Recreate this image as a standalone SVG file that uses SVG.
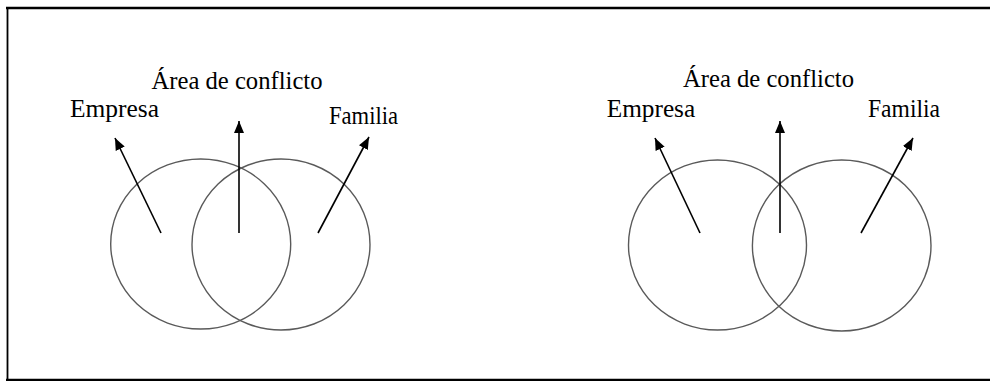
<svg xmlns="http://www.w3.org/2000/svg" width="990" height="381" viewBox="0 0 990 381">
<style>
.frame{stroke:#000;fill:none}
.ring{fill:none;stroke:#5a5a5a;stroke-width:1.4}
.arr{stroke:#000;stroke-width:1.6;fill:none;marker-end:url(#ah)}
.lbl{font-family:"Liberation Serif","DejaVu Serif","Times New Roman",serif;font-size:25px;fill:#000}
</style>
<defs>
<marker id="ah" markerUnits="userSpaceOnUse" markerWidth="14" markerHeight="12" refX="12" refY="5" orient="auto" viewBox="0 0 14 12">
<path d="M0,0 L12,5 L0,10 z" fill="#000"/>
</marker>
</defs>
<rect width="990" height="381" fill="#fff"/>
<g id="frame">
<line class="frame" x1="6" y1="8" x2="990" y2="8" stroke-width="2.7"/>
<line class="frame" x1="7.5" y1="7" x2="7.5" y2="380" stroke-width="1.8"/>
<line class="frame" x1="6" y1="380" x2="990" y2="380" stroke-width="2.5"/>
</g>
<g id="left-empresa"><ellipse class="ring" cx="200.7" cy="244" rx="90" ry="85"/><text class="lbl" x="70" y="117.3" textLength="89" lengthAdjust="spacingAndGlyphs">Empresa</text></g>
<g id="left-familia"><ellipse class="ring" cx="281" cy="244.5" rx="89" ry="85.5"/><text class="lbl" x="329" y="124" textLength="69" lengthAdjust="spacingAndGlyphs">Familia</text></g>
<g id="left-conflicto"><text class="lbl" x="151.5" y="89.3" textLength="171" lengthAdjust="spacingAndGlyphs">Área de conflicto</text></g>
<g id="right-empresa"><ellipse class="ring" cx="717.5" cy="245" rx="89" ry="85"/><text class="lbl" x="606.7" y="116.7" textLength="88.5" lengthAdjust="spacingAndGlyphs">Empresa</text></g>
<g id="right-familia"><ellipse class="ring" cx="841.7" cy="245.5" rx="89.3" ry="85.5"/><text class="lbl" x="868" y="116.7" textLength="72" lengthAdjust="spacingAndGlyphs">Familia</text></g>
<g id="right-conflicto"><text class="lbl" x="683" y="87.3" textLength="171" lengthAdjust="spacingAndGlyphs">Área de conflicto</text></g>
<g id="connectors">
<line class="arr" x1="161" y1="233" x2="115" y2="138"/>
<line class="arr" x1="239" y1="233" x2="239" y2="121"/>
<line class="arr" x1="318" y1="233" x2="369" y2="137"/>
<line class="arr" x1="700" y1="233" x2="655" y2="138"/>
<line class="arr" x1="780" y1="233" x2="780" y2="121"/>
<line class="arr" x1="861" y1="233" x2="913" y2="138"/>
</g>
</svg>
